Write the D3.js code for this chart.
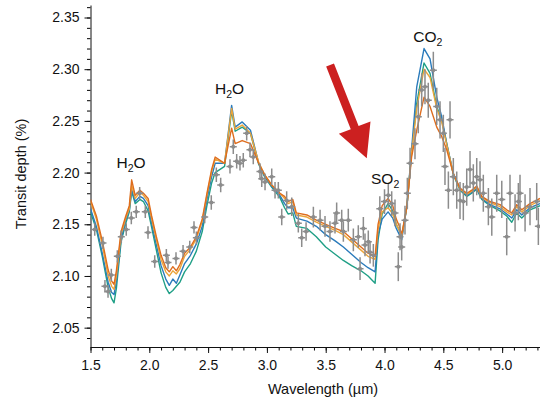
<!DOCTYPE html>
<html>
<head>
<meta charset="utf-8">
<script src="https://cdn.jsdelivr.net/npm/d3@7"></script>
<style>
  body { margin: 0; background: #fff; }
  text { font-family: "Liberation Sans", Arial, Helvetica, sans-serif; }
</style>
</head>
<body>
<svg id="chart" width="540" height="401"></svg>
<script>
// observed spectrum: wavelength (µm), transit depth (%), 1-sigma error (%)
const obsWave = [1.536, 1.606, 1.623, 1.649, 1.677, 1.728, 1.762, 1.804, 1.847, 1.889,
  1.918, 1.966, 1.989, 2.046, 2.145, 2.159, 2.227, 2.287, 2.344, 2.380,
  2.400, 2.471, 2.527, 2.570, 2.607, 2.686, 2.714, 2.743, 2.771, 2.799,
  2.828, 2.856, 2.884, 2.941, 2.956, 2.984, 3.041, 3.069, 3.097, 3.126,
  3.168, 3.211, 3.267, 3.296, 3.333, 3.395, 3.452, 3.494, 3.536, 3.579,
  3.593, 3.636, 3.650, 3.692, 3.735, 3.777, 3.792, 3.820, 3.834, 3.862,
  3.877, 3.905, 3.960, 4.000, 4.032, 4.061, 4.089, 4.117, 4.132, 4.146,
  4.174, 4.194, 4.217, 4.259, 4.287, 4.316, 4.344, 4.372, 4.415, 4.444,
  4.472, 4.500, 4.514, 4.543, 4.557, 4.585, 4.614, 4.642, 4.670, 4.699,
  4.727, 4.755, 4.784, 4.812, 4.840, 4.883, 4.912, 4.954, 4.997, 5.039,
  5.067, 5.110, 5.138, 5.152, 5.195, 5.237, 5.294, 5.308];
const obsDepth = [2.145, 2.132, 2.090, 2.085, 2.101, 2.119, 2.138, 2.145, 2.156, 2.162,
  2.180, 2.162, 2.142, 2.114, 2.120, 2.113, 2.117, 2.124, 2.128, 2.147,
  2.137, 2.157, 2.171, 2.198, 2.188, 2.206, 2.225, 2.211, 2.209, 2.212,
  2.238, 2.222, 2.215, 2.201, 2.194, 2.191, 2.196, 2.183, 2.183, 2.157,
  2.173, 2.167, 2.151, 2.137, 2.143, 2.157, 2.154, 2.148, 2.143, 2.151,
  2.161, 2.154, 2.143, 2.154, 2.135, 2.138, 2.107, 2.146, 2.130, 2.133,
  2.123, 2.120, 2.165, 2.172, 2.178, 2.170, 2.161, 2.109, 2.138, 2.128,
  2.154, 2.180, 2.209, 2.228, 2.254, 2.280, 2.283, 2.270, 2.299, 2.264,
  2.251, 2.238, 2.206, 2.183, 2.251, 2.196, 2.183, 2.173, 2.172, 2.186,
  2.203, 2.190, 2.196, 2.193, 2.180, 2.167, 2.157, 2.180, 2.174, 2.138,
  2.180, 2.161, 2.172, 2.180, 2.161, 2.167, 2.172, 2.148];
const obsErr = [0.006, 0.006, 0.006, 0.006, 0.006, 0.006, 0.006, 0.006, 0.006, 0.006,
  0.006, 0.006, 0.006, 0.006, 0.006, 0.006, 0.006, 0.006, 0.006, 0.006,
  0.006, 0.006, 0.007, 0.007, 0.007, 0.007, 0.007, 0.007, 0.007, 0.007,
  0.007, 0.007, 0.007, 0.008, 0.008, 0.008, 0.008, 0.008, 0.008, 0.008,
  0.009, 0.009, 0.009, 0.009, 0.009, 0.010, 0.010, 0.010, 0.010, 0.010,
  0.010, 0.010, 0.010, 0.011, 0.011, 0.011, 0.011, 0.011, 0.011, 0.011,
  0.011, 0.011, 0.012, 0.012, 0.012, 0.012, 0.013, 0.014, 0.013, 0.013,
  0.014, 0.015, 0.015, 0.015, 0.016, 0.016, 0.017, 0.017, 0.018, 0.018,
  0.018, 0.018, 0.018, 0.018, 0.018, 0.018, 0.018, 0.018, 0.018, 0.018,
  0.018, 0.018, 0.018, 0.018, 0.018, 0.018, 0.018, 0.018, 0.018, 0.018,
  0.018, 0.018, 0.018, 0.018, 0.018, 0.018, 0.018, 0.018];

// model spectra on a shared wavelength grid
const modelWave = [1.50, 1.55, 1.60, 1.65, 1.68, 1.70, 1.72, 1.76, 1.80, 1.83,
  1.85, 1.88, 1.92, 1.95, 1.99, 2.02, 2.06, 2.10, 2.14, 2.17,
  2.20, 2.23, 2.26, 2.30, 2.35, 2.40, 2.45, 2.49, 2.53, 2.56,
  2.64, 2.70, 2.73, 2.79, 2.86, 2.93, 2.98, 3.04, 3.11, 3.15,
  3.18, 3.22, 3.25, 3.34, 3.42, 3.50, 3.58, 3.65, 3.72, 3.80,
  3.86, 3.92, 3.945, 3.98, 4.03, 4.07, 4.10, 4.126, 4.146, 4.19,
  4.23, 4.274, 4.336, 4.387, 4.444, 4.486, 4.529, 4.585, 4.642, 4.70,
  4.742, 4.784, 4.827, 4.897, 4.982, 5.039, 5.082, 5.124, 5.167, 5.237,
  5.322];
const modelOrange = [2.174, 2.158, 2.134, 2.106, 2.095, 2.092, 2.105, 2.143, 2.158, 2.168,
  2.193, 2.178, 2.183, 2.180, 2.175, 2.158, 2.138, 2.120, 2.108, 2.104,
  2.109, 2.105, 2.111, 2.122, 2.128, 2.138, 2.155, 2.180, 2.203, 2.215,
  2.209, 2.243, 2.228, 2.231, 2.228, 2.209, 2.198, 2.188, 2.180, 2.177,
  2.172, 2.174, 2.161, 2.159, 2.154, 2.150, 2.146, 2.143, 2.136, 2.128,
  2.122, 2.119, 2.150, 2.168, 2.175, 2.168, 2.155, 2.148, 2.140, 2.167,
  2.215, 2.241, 2.273, 2.264, 2.244, 2.235, 2.222, 2.199, 2.185, 2.180,
  2.183, 2.187, 2.177, 2.172, 2.169, 2.164, 2.161, 2.169, 2.164, 2.170,
  2.175];
const modelAmber = [2.172, 2.155, 2.130, 2.100, 2.090, 2.087, 2.100, 2.140, 2.156, 2.165,
  2.188, 2.175, 2.181, 2.178, 2.172, 2.155, 2.135, 2.116, 2.104, 2.100,
  2.105, 2.102, 2.107, 2.119, 2.126, 2.136, 2.153, 2.178, 2.201, 2.213,
  2.209, 2.262, 2.242, 2.246, 2.238, 2.210, 2.198, 2.188, 2.180, 2.175,
  2.170, 2.172, 2.159, 2.157, 2.152, 2.148, 2.144, 2.140, 2.133, 2.125,
  2.119, 2.116, 2.145, 2.162, 2.166, 2.160, 2.150, 2.144, 2.138, 2.167,
  2.219, 2.262, 2.300, 2.292, 2.262, 2.249, 2.227, 2.199, 2.184, 2.179,
  2.182, 2.186, 2.176, 2.171, 2.167, 2.162, 2.159, 2.167, 2.162, 2.168,
  2.173];
const modelBlue = [2.165, 2.148, 2.122, 2.094, 2.084, 2.082, 2.095, 2.136, 2.154, 2.164,
  2.184, 2.172, 2.177, 2.175, 2.168, 2.151, 2.130, 2.110, 2.097, 2.091,
  2.097, 2.093, 2.101, 2.112, 2.120, 2.131, 2.148, 2.174, 2.196, 2.209,
  2.209, 2.265, 2.244, 2.249, 2.241, 2.209, 2.197, 2.187, 2.178, 2.170,
  2.166, 2.166, 2.156, 2.153, 2.148, 2.140, 2.134, 2.128, 2.121, 2.113,
  2.108, 2.104, 2.140, 2.155, 2.162, 2.156, 2.146, 2.140, 2.135, 2.167,
  2.222, 2.283, 2.320, 2.310, 2.273, 2.254, 2.228, 2.199, 2.184, 2.178,
  2.181, 2.185, 2.175, 2.169, 2.165, 2.160, 2.156, 2.164, 2.159, 2.166,
  2.170];
const modelGreen = [2.162, 2.145, 2.119, 2.089, 2.078, 2.074, 2.088, 2.133, 2.151, 2.162,
  2.182, 2.170, 2.174, 2.172, 2.163, 2.147, 2.125, 2.103, 2.089, 2.083,
  2.086, 2.090, 2.094, 2.104, 2.112, 2.124, 2.143, 2.168, 2.190, 2.200,
  2.206, 2.260, 2.240, 2.244, 2.238, 2.208, 2.196, 2.186, 2.176, 2.166,
  2.160, 2.161, 2.148, 2.146, 2.138, 2.128, 2.121, 2.115, 2.110, 2.105,
  2.100, 2.093, 2.135, 2.160, 2.170, 2.163, 2.150, 2.144, 2.138, 2.167,
  2.219, 2.267, 2.306, 2.296, 2.264, 2.251, 2.228, 2.198, 2.183, 2.177,
  2.180, 2.184, 2.174, 2.168, 2.163, 2.158, 2.152, 2.161, 2.156, 2.164,
  2.168];

const xTicks = [1.5, 2.0, 2.5, 3.0, 3.5, 4.0, 4.5, 5.0];
const yTicks = [2.05, 2.10, 2.15, 2.20, 2.25, 2.30, 2.35];

// molecule labels: text, subscript, wavelength, depth (baseline-left anchor)
const labels = [
  { main: "H", sub: "2", tail: "O", x: 1.721, y: 2.2044 },
  { main: "H", sub: "2", tail: "O", x: 2.559, y: 2.2760 },
  { main: "SO", sub: "2", tail: "", x: 3.885, y: 2.1890 },
  { main: "CO", sub: "2", tail: "", x: 4.245, y: 2.3266 }
];

const svg = d3.select("#chart");
const margin = { left: 90.5, right: 0, top: 5, bottom: 54 };
const W = 540, H = 401;

const x = d3.scaleLinear().domain([1.5, 5.322]).range([margin.left, W - margin.right]);
const y = d3.scaleLinear().domain([2.0313, 2.3621]).range([H - margin.bottom, margin.top]);

svg.append("defs").append("clipPath").attr("id", "plot-clip")
  .append("rect")
  .attr("x", margin.left).attr("y", margin.top)
  .attr("width", W - margin.left).attr("height", H - margin.bottom - margin.top);

// axes: minor ticks first, then major ticks with labels
const fmt = d3.format(".2f");
const yMinor = d3.range(2.04, 2.361, 0.01);
const xMinor = d3.range(1.5, 5.32, 0.1);

svg.append("g")
  .attr("transform", `translate(${margin.left},0)`)
  .call(d3.axisLeft(y).tickValues(yMinor).tickSize(3.5).tickFormat(""))
  .call((g) => g.select(".domain").remove());

svg.append("g")
  .attr("transform", `translate(0,${H - margin.bottom})`)
  .call(d3.axisBottom(x).tickValues(xMinor).tickSize(3.5).tickFormat(""))
  .call((g) => g.select(".domain").remove());

const yAxis = svg.append("g")
  .attr("transform", `translate(${margin.left},0)`)
  .call(d3.axisLeft(y).tickValues(yTicks).tickSize(6).tickPadding(5).tickFormat(fmt).tickSizeOuter(0));

const xAxis = svg.append("g")
  .attr("transform", `translate(0,${H - margin.bottom})`)
  .call(d3.axisBottom(x).tickValues(xTicks).tickSize(6).tickPadding(7).tickFormat(d3.format(".1f")).tickSizeOuter(0));

[yAxis, xAxis].forEach((g) => {
  g.selectAll("text").attr("font-size", 14).attr("fill", "#111")
    .style("font-family", '"Liberation Sans", Arial, sans-serif');
  g.selectAll("line, path").attr("stroke", "#111");
});

// axis titles
svg.append("text")
  .attr("x", 323).attr("y", 394)
  .attr("text-anchor", "middle")
  .attr("font-size", 14.5).attr("fill", "#111")
  .text("Wavelength (µm)");

svg.append("text")
  .attr("transform", "translate(26,174) rotate(-90)")
  .attr("text-anchor", "middle")
  .attr("font-size", 14.5).attr("fill", "#111")
  .text("Transit depth (%)");

// model lines
const plot = svg.append("g").attr("clip-path", "url(#plot-clip)");

const models = [
  { values: modelGreen, color: "#1f9f86" },
  { values: modelBlue, color: "#2b7bbb" },
  { values: modelAmber, color: "#eca53a" },
  { values: modelOrange, color: "#de6d1e" }
];

const line = d3.line()
  .x((d) => x(d[0]))
  .y((d) => y(d[1]));

models.forEach((m) => {
  plot.append("path")
    .datum(modelWave.map((w, i) => [w, m.values[i]]))
    .attr("fill", "none")
    .attr("stroke", m.color)
    .attr("stroke-width", 1.4)
    .attr("stroke-linejoin", "round")
    .attr("d", line);
});

// observed points with error bars
const obs = obsWave.map((w, i) => ({ w, d: obsDepth[i], e: obsErr[i] }));
const pts = plot.append("g").selectAll("g").data(obs).enter().append("g");
const grey = "#8c8c8c";

pts.append("line")
  .attr("x1", (d) => x(d.w)).attr("x2", (d) => x(d.w))
  .attr("y1", (d) => y(d.d - d.e)).attr("y2", (d) => y(d.d + d.e))
  .attr("stroke", grey).attr("stroke-width", 1.5);

pts.append("line")
  .attr("x1", (d) => x(d.w) - 3.5).attr("x2", (d) => x(d.w) + 3.5)
  .attr("y1", (d) => y(d.d)).attr("y2", (d) => y(d.d))
  .attr("stroke", grey).attr("stroke-width", 1.5);

pts.append("circle")
  .attr("cx", (d) => x(d.w)).attr("cy", (d) => y(d.d))
  .attr("r", 2).attr("fill", grey);

// molecule labels
labels.forEach((l) => {
  const t = svg.append("text")
    .attr("x", x(l.x)).attr("y", y(l.y))
    .attr("font-size", 15.5).attr("fill", "#111");
  t.append("tspan").text(l.main);
  t.append("tspan").attr("font-size", 10.5).attr("dy", 4).text(l.sub);
  if (l.tail) t.append("tspan").attr("dy", -4).text(l.tail);
});

// red arrow pointing at the SO2 feature
const tail = [x(3.537), y(2.304)];
const tip = [x(3.849), y(2.2138)];
const dx = tip[0] - tail[0], dy = tip[1] - tail[1];
const len = Math.sqrt(dx * dx + dy * dy);
const ux = dx / len, uy = dy / len;
const nx = -uy, ny = ux;
const headLen = 33, headHalf = 17, shaftHalf = 4.2;
const bx = tip[0] - ux * headLen, by = tip[1] - uy * headLen;
const arrowPts = [
  [tail[0] + nx * shaftHalf, tail[1] + ny * shaftHalf],
  [bx + nx * shaftHalf, by + ny * shaftHalf],
  [bx + nx * headHalf, by + ny * headHalf],
  tip,
  [bx - nx * headHalf, by - ny * headHalf],
  [bx - nx * shaftHalf, by - ny * shaftHalf],
  [tail[0] - nx * shaftHalf, tail[1] - ny * shaftHalf]
];
svg.append("polygon")
  .attr("points", arrowPts.map((p) => p.join(",")).join(" "))
  .attr("fill", "#cc2020");
</script>
</body>
</html>
